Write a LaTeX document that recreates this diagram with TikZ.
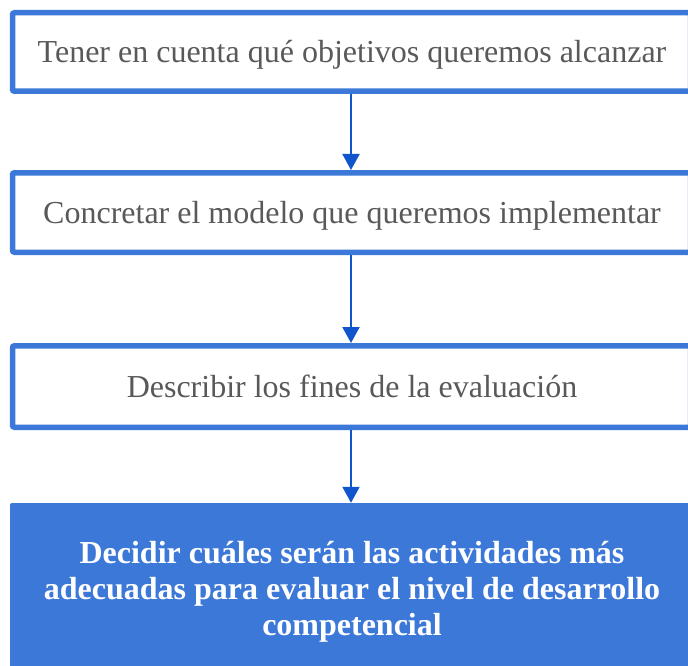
\documentclass[tikz,border=0pt]{standalone}
\usepackage{fontspec}
\setmainfont{Liberation Serif}
\usetikzlibrary{arrows.meta}
\definecolor{boxblue}{HTML}{3C78D8}
\definecolor{arrblue}{HTML}{1155CC}
\definecolor{txtgray}{HTML}{595959}
\tikzset{
  x=1pt,y=-1pt,
  stepbox/.style={draw=boxblue, line width=5.5pt, rounded corners=2pt, fill=white,
    minimum width=678pt, inner sep=0pt, text=txtgray,
    font=\fontsize{32}{36}\selectfont, text height=21pt, text depth=0pt},
  finalbox/.style={fill=boxblue, rounded corners=2pt, minimum width=683pt,
    minimum height=177pt, inner sep=0pt},
  finaltext/.style={text=white, align=center, font=\fontsize{32}{36}\bfseries\selectfont, inner sep=0pt},
  arr/.style={draw=arrblue, line width=2pt, -{Triangle[length=16pt,width=17pt]}}
}
\begin{document}
\begin{tikzpicture}
\useasboundingbox (0,0) rectangle (688,666);
\clip (0,0) rectangle (688,666);
\node[stepbox, minimum height=78.5pt] (b1) at (351.5,52) {\hspace*{1pt}Tener en cuenta qué objetivos queremos alcanzar};
\node[stepbox, minimum height=79.5pt] (b2) at (351.5,212.5) {\hspace*{1pt}Concretar el modelo que queremos implementar};
\node[stepbox, minimum height=81.5pt] (b3) at (351.5,386.5) {\hspace*{1pt}Describir los fines de la evaluación};
\node[finalbox] (b4) at (351.5,591.5) {};
\node[finaltext, anchor=center] (t4) at (352,592) {Decidir cuáles serán las actividades más\\adecuadas para evaluar el nivel de desarrollo\\competencial};
\draw[arr] ([xshift=-0.5pt]b1.south) -- ([xshift=-0.5pt]b2.north);
\draw[arr] ([xshift=-0.5pt]b2.south) -- ([xshift=-0.5pt]b3.north);
\draw[arr] ([xshift=-0.5pt]b3.south) -- ([xshift=-0.5pt]b4.north);
\end{tikzpicture}
\end{document}
